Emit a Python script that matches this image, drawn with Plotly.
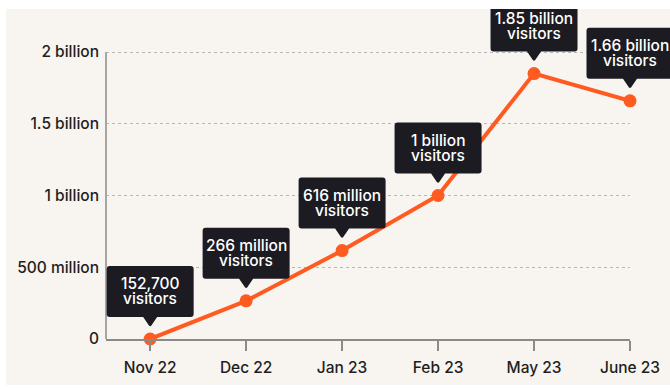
import plotly.graph_objects as go

categories = ["Nov 22", "Dec 22", "Jan 23", "Feb 23", "May 23", "June 23"]
visitors = [152700, 266e6, 616e6, 1e9, 1.85e9, 1.66e9]
label_line1 = ["152,700", "266 million", "616 million", "1 billion", "1.85 billion", "1.66 billion"]
label_line2 = ["visitors"] * 6
ytick_vals = [0, 5e8, 1e9, 1.5e9, 2e9]
ytick_text = ["0", "500 million", "1 billion", "1.5 billion", "2 billion"]

ORANGE = "#FF5A1F"
DARK = "#1C1B22"
BEIGE = "#F8F4F0"
AXIS = "#8C8A88"
FONT = "Inter"
FS = 15.5
FW = 500

W, H = 670, 389
L, R, T, B = 106, 0, 9, 50
PLOT_RIGHT = 630                     # right end of the drawn axes
pw, ph = W - L - R, H - T - B
YMAX = 2e9 * (H - B - T) / (H - B - 52)  # plot area extends up to the crop edge
XR = [-0.46, 5]
main_frac = (PLOT_RIGHT - L) / pw
XR2 = [XR[0], XR[0] + (XR[1] - XR[0]) / main_frac]

fig = go.Figure()
fig.add_trace(go.Scatter(
    x=list(range(len(categories))), y=visitors, mode="lines+markers",
    line=dict(color=ORANGE, width=4),
    marker=dict(color=ORANGE, size=13),
    cliponaxis=False, hoverinfo="skip", showlegend=False,
))

def px_x(p):
    return (p - L) / pw

def px_y(p):
    return (H - B - p) / ph

shapes = []
# beige background (the reference is a crop with thin white margins)
shapes.append(dict(type="rect", xref="paper", yref="paper",
                   x0=px_x(6), x1=px_x(W + 5), y0=px_y(385), y1=px_y(9),
                   fillcolor=BEIGE, line=dict(width=0), layer="below"))
# y axis line, only from 0 to the top tick
shapes.append(dict(type="line", xref="paper", yref="y", x0=0, x1=0,
                   y0=ytick_vals[0], y1=ytick_vals[-1],
                   line=dict(color=AXIS, width=1.5), layer="below"))

box_path = ("M -40.5 22 L -7 22 L -1.2 13.5 Q 0 12 1.2 13.5 L 7 22 L 40.5 22 "
            "Q 43.5 22 43.5 25 L 43.5 70 Q 43.5 73 40.5 73 L -40.5 73 "
            "Q -43.5 73 -43.5 70 L -43.5 25 Q -43.5 22 -40.5 22 Z")
annotations = []
for i, v in enumerate(visitors):
    shapes.append(dict(type="path", xref="x2", yref="y2",
                       xsizemode="pixel", ysizemode="pixel",
                       xanchor=i, yanchor=v, path=box_path,
                       fillcolor=DARK, line=dict(width=0), layer="above"))
    annotations.append(dict(x=i, y=v, xref="x", yref="y", text=label_line1[i],
                            showarrow=False, yanchor="middle", yshift=55,
                            font=dict(family=FONT, size=FS, weight=FW, color="white")))
    annotations.append(dict(x=i, y=v, xref="x", yref="y", text=label_line2[i],
                            showarrow=False, yanchor="middle", yshift=40,
                            font=dict(family=FONT, size=FS, weight=FW, color="white")))

fig.update_layout(
    width=W, height=H,
    margin=dict(l=L, r=R, t=T, b=B, autoexpand=False),
    paper_bgcolor="white", plot_bgcolor="rgba(0,0,0,0)",
    font=dict(family=FONT, size=FS, color="#1E1E1E"),
    shapes=shapes, annotations=annotations,
    xaxis=dict(
        domain=[0, main_frac], automargin=False,
        range=XR, tickmode="array",
        tickvals=list(range(len(categories))), ticktext=categories,
        showgrid=False, zeroline=False, mirror=False,
        showline=True, linecolor=AXIS, linewidth=1.5,
        ticks="outside", ticklen=10, tickcolor=AXIS, tickwidth=1.5,
        ticklabelstandoff=4,
        tickfont=dict(family=FONT, size=FS, weight=FW, color="#1E1E1E"),
        fixedrange=True,
    ),
    yaxis=dict(
        automargin=False,
        range=[0, YMAX], tickmode="array", tickvals=ytick_vals, ticktext=ytick_text,
        showgrid=True, gridcolor="#B8B6B4", griddash="dot", gridwidth=1,
        zeroline=False, showline=False, mirror=False,
        ticks="", ticklabelstandoff=6,
        tickfont=dict(family=FONT, size=FS, weight=FW, color="#1E1E1E"),
        fixedrange=True,
    ),
    # invisible helper axes spanning to the page edge, used so the label boxes
    # are not clipped at the right end of the chart
    xaxis2=dict(domain=[0, 1], range=XR2, anchor="y2", visible=False,
                showgrid=False, zeroline=False, showline=False,
                automargin=False, fixedrange=True),
    yaxis2=dict(range=[0, YMAX], anchor="x2", visible=False,
                showgrid=False, zeroline=False, showline=False,
                automargin=False, fixedrange=True),
)

fig.write_html("out.html")
